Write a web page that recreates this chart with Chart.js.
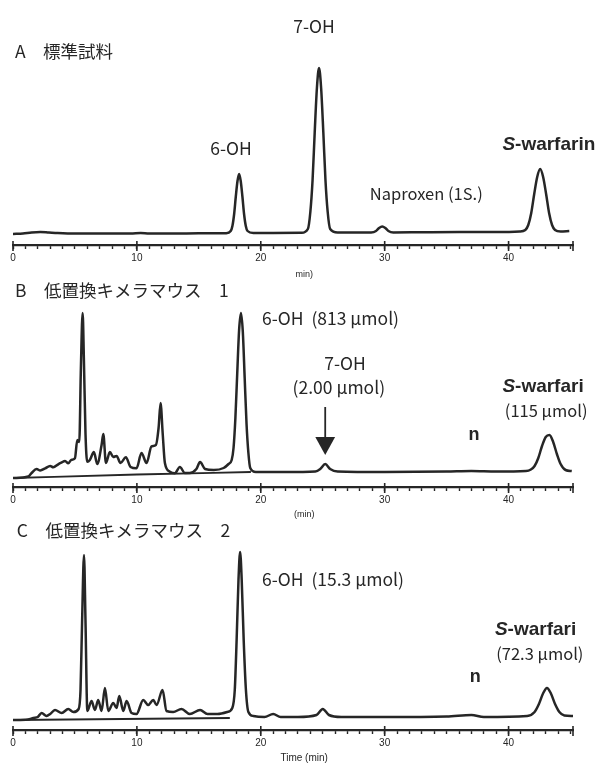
<!DOCTYPE html>
<html><head><meta charset="utf-8">
<script src="https://cdn.jsdelivr.net/npm/chart.js@4.4.1/dist/chart.umd.min.js"></script>
<style>
html,body{margin:0;padding:0;background:#fff;}
body{width:604px;height:763px;position:relative;overflow:hidden;}
canvas{position:absolute;left:0;}
</style></head><body>
<canvas id="cA" width="604" height="282" style="top:0px;width:604px;height:282px"></canvas>
<canvas id="cB" width="604" height="240" style="top:282px;width:604px;height:240px"></canvas>
<canvas id="cC" width="604" height="241" style="top:522px;width:604px;height:241px"></canvas>
<script>
// ---------- data (retention time in min, detector signal in arbitrary units) ----------
const majorTicks = [0, 10, 20, 30, 40];

const timeA = [0, 0.8, 1.5, 2.2, 2.9, 3.6, 5, 7, 9.5, 10.3, 11, 13, 15, 16.5, 17.2,
  17.57, 17.71, 17.85, 17.98, 18.12, 18.25, 18.38, 18.52, 18.65, 18.79, 18.93, 19.4, 21, 23.3,
  23.8, 24.0, 24.18, 24.35, 24.53, 24.7, 24.87, 25.05, 25.22, 25.4, 25.6, 26.2, 28,
  28.9, 29.3, 29.55, 29.8, 30.05, 30.3, 30.7, 33, 36, 39, 40.9,
  41.35, 41.59, 41.83, 42.07, 42.31, 42.55, 42.79, 43.03, 43.27, 43.51, 43.75, 44.2, 44.9];
const signalA = [0, 0.5, 1.5, 2, 1.5, 1, 0.5, 0.5, 0.5, 1, 0.5, 0.5, 0.7, 0.7, 0.8,
  3, 8, 20, 37, 53, 60, 53, 37, 20, 8, 3, 1, 1, 1.2,
  5, 22, 54, 101, 146, 166, 146, 101, 54, 22, 5, 1.5, 1.5,
  1.6, 3, 6, 7.5, 6, 3, 1.6, 1.8, 2, 2, 2.5,
  4, 9, 21, 40, 57, 65, 57, 40, 21, 9, 4, 2.5, 3];

const timeB = [0, 1.23, 1.5, 1.9, 2.2, 2.6, 3.0, 3.25, 3.65, 3.9, 4.2, 4.46, 4.7, 5.0, 5.19, 5.35,
  5.48, 5.62, 5.72, 5.85, 5.99, 6.2, 6.53, 6.8, 7.15, 7.29, 7.5, 7.82, 8.09, 8.36, 8.68, 9.11,
  9.49, 9.97, 10.37, 10.78, 11.18, 11.53, 11.75, 11.91, 12.08, 12.26, 12.66, 13.06, 13.47, 13.87,
  14.27, 14.8, 15.1, 15.5, 16.2, 17.0, 17.4,
  17.65, 17.8, 17.95, 18.1, 18.25, 18.4, 18.55, 18.7, 18.85, 19.0, 19.15, 19.6, 22, 24.4,
  24.8, 25.2, 25.6, 26.2, 30, 35, 37, 39, 41.4,
  41.8, 42.1, 42.4, 42.7, 43.0, 43.3, 43.6, 43.9, 44.2, 44.6, 45.1];
const signalB = [0, 1.5, 5, 9, 7.5, 9.7, 12, 10.7, 13.7, 15.3, 17, 14.7, 18, 19.7, 38, 36,
  110, 165, 120, 45, 16.3, 18, 26, 14, 33, 44, 15, 26, 21, 22, 15, 20.7,
  11, 9.7, 25, 15, 31.7, 33, 50, 75, 45, 15, 6.3, 4.7, 11, 5,
  5, 9, 16, 9, 8, 10, 14,
  18, 30, 60, 105, 148, 165, 146, 100, 54, 25, 10, 6, 6, 6.5,
  9, 14, 9, 6.5, 6, 6.5, 7, 6.5, 7,
  8.5, 12, 20, 32, 41, 43, 36, 24, 14, 8, 7];
const lowerTimeB = [0, 10, 19.2];
const lowerSignalB = [0, 3.5, 6];

const timeC = [0, 1.2, 1.64, 2.0, 2.31, 2.71, 3.0, 3.39, 3.93, 4.46, 4.87, 5.3, 5.45, 5.58, 5.73, 5.85,
  6.0, 6.34, 6.61, 6.88, 7.15, 7.42, 7.69, 8.09, 8.36, 8.58, 8.9, 9.17, 9.57, 9.97, 10.51, 10.91,
  11.32, 11.59, 12.07, 12.39, 12.93, 13.6, 14.27, 15.1, 15.7, 16.5, 17.3, 17.7,
  17.9, 18.05, 18.2, 18.33, 18.46, 18.62, 18.8, 19.0, 19.4, 20.3, 21.0, 21.6, 23, 24.5,
  25.0, 25.5, 26.5, 30, 35, 37, 38, 41.5,
  42.1, 42.45, 42.8, 43.1, 43.4, 43.75, 44.1, 44.5, 45.2];
const signalC = [0, 0.5, 2, 3, 7, 4, 6, 10, 7, 11, 8, 11, 30, 100, 165, 100,
  9, 19, 10, 20, 9, 32, 9, 17, 12, 24, 9, 19, 7, 6, 20, 15,
  20, 15, 30, 9, 8, 11, 6, 10, 6, 6, 8, 12,
  30, 80, 140, 168, 140, 80, 30, 8, 4, 3, 6, 3, 3, 5,
  11, 5, 3, 3, 3.5, 5, 3, 4,
  8, 16, 27, 32, 27, 16, 8, 4.5, 4];
const lowerTimeC = [0, 17.5];
const lowerSignalC = [0, 2];

// ---------- styling ----------
const INK = '#262626';
const CJK = '"Noto Sans CJK JP", "Noto Sans", sans-serif';
const LAT = '"Liberation Sans", Arial, sans-serif';
const LBL = '17.5px ' + CJK;
const TITLE = '17.5px ' + CJK;
const SW = 'bold 19px ' + LAT;
const SWI = 'italic bold 19px ' + LAT;

const labelsA = [
  {x: 0.16, y: 183, parts: [['A　標準試料', TITLE]], align: 'left'},
  {x: 24.3, y: 208, parts: [['7-OH', LBL]], align: 'center'},
  {x: 17.6, y: 86, parts: [['6-OH', LBL]], align: 'center'},
  {x: 28.8, y: 40, parts: [['Naproxen (1S.)', '16.5px ' + CJK]], align: 'left'},
  {x: 39.5, y: 89, parts: [['S', SWI], ['-warfarin', SW]], align: 'left'},
  {x: 23.5, y: -41, parts: [['min)', '9px ' + LAT]], align: 'center'}
];
const labelsB = [
  {x: 0.16, y: 188, parts: [['B　低置換キメラマウス　1', TITLE]], align: 'left'},
  {x: 20.1, y: 160, parts: [['6-OH  (813 μmol)', LBL]], align: 'left'},
  {x: 26.8, y: 115, parts: [['7-OH', LBL]], align: 'center'},
  {x: 26.3, y: 91, parts: [['(2.00 μmol)', LBL]], align: 'center'},
  {x: 39.5, y: 91, parts: [['S', SWI], ['-warfari', SW]], align: 'left'},
  {x: 39.7, y: 67, parts: [['(115 μmol)', '16.5px ' + CJK]], align: 'left'},
  {x: 37.2, y: 43, parts: [['n', 'bold 18px ' + LAT]], align: 'center'},
  {x: 23.5, y: -37, parts: [['(min)', '9px ' + LAT]], align: 'center'}
];
const labelsC = [
  {x: 0.3, y: 190, parts: [['C　低置換キメラマウス　2', TITLE]], align: 'left'},
  {x: 20.1, y: 141, parts: [['6-OH  (15.3 μmol)', LBL]], align: 'left'},
  {x: 38.9, y: 90, parts: [['S', SWI], ['-warfari', SW]], align: 'left'},
  {x: 39.0, y: 66, parts: [['(72.3 μmol)', '16.5px ' + CJK]], align: 'left'},
  {x: 37.3, y: 43, parts: [['n', 'bold 18px ' + LAT]], align: 'center'},
  {x: 23.5, y: -38, parts: [['Time (min)', '10px ' + LAT]], align: 'center'}
];
const arrowB = {x: 25.2, top: 71, headBase: 41, tip: 23, halfWidth: 0.8};

function pts(t, v) { return t.map((x, i) => ({x: x, y: v[i]})); }

function marksPlugin(labels, arrow) {
  return {
    id: 'marks',
    afterDraw(chart) {
      const ctx = chart.ctx, xs = chart.scales.x, ys = chart.scales.y;
      const axisY = chart.chartArea.bottom;
      ctx.save();
      ctx.strokeStyle = INK;
      ctx.lineWidth = 1.6;
      majorTicks.concat([xs.max]).forEach(v => {
        const px = xs.getPixelForValue(v);
        ctx.beginPath(); ctx.moveTo(px, axisY - 4); ctx.lineTo(px, axisY + 6); ctx.stroke();
      });
      if (arrow) {
        const ax = xs.getPixelForValue(arrow.x);
        ctx.lineWidth = 1.8;
        ctx.beginPath(); ctx.moveTo(ax, ys.getPixelForValue(arrow.top));
        ctx.lineTo(ax, ys.getPixelForValue(arrow.headBase)); ctx.stroke();
        ctx.fillStyle = INK;
        ctx.beginPath();
        ctx.moveTo(xs.getPixelForValue(arrow.x - arrow.halfWidth), ys.getPixelForValue(arrow.headBase));
        ctx.lineTo(xs.getPixelForValue(arrow.x + arrow.halfWidth), ys.getPixelForValue(arrow.headBase));
        ctx.lineTo(ax, ys.getPixelForValue(arrow.tip));
        ctx.closePath(); ctx.fill();
      }
      ctx.fillStyle = INK;
      ctx.textBaseline = 'middle';
      labels.forEach(l => {
        let w = 0;
        l.parts.forEach(p => { ctx.font = p[1]; w += ctx.measureText(p[0]).width; });
        let px = xs.getPixelForValue(l.x);
        if (l.align === 'center') px -= w / 2;
        const py = ys.getPixelForValue(l.y);
        ctx.textAlign = 'left';
        l.parts.forEach(p => { ctx.font = p[1]; ctx.fillText(p[0], px, py); px += ctx.measureText(p[0]).width; });
      });
      ctx.restore();
    }
  };
}

function makeChart(id, datasets, yMin, yMax, pad, labels, arrow) {
  return new Chart(document.getElementById(id), {
    type: 'line',
    data: {datasets: datasets},
    options: {
      responsive: false, animation: false, devicePixelRatio: 1,
      layout: {padding: pad},
      plugins: {legend: {display: false}, tooltip: {enabled: false}, title: {display: false}},
      elements: {point: {radius: 0}},
      scales: {
        x: {
          type: 'linear', min: 0, max: 45.2,
          afterBuildTicks: (s) => {
            const t = [];
            for (let v = 0; v <= 45; v++) t.push({value: v});
            s.ticks = t;
          },
          afterFit: (s) => { s.height = 30; },
          ticks: {
            autoSkip: false, maxRotation: 0, padding: 3, color: INK,
            font: {family: '"Liberation Sans", Arial, sans-serif', size: 10},
            callback: (v) => majorTicks.includes(v) ? String(v) : ''
          },
          grid: {drawOnChartArea: false, drawTicks: true, tickLength: 4, color: INK, tickWidth: 1.4},
          border: {display: true, color: INK, width: 2.2}
        },
        y: {type: 'linear', display: false, min: yMin, max: yMax}
      }
    },
    plugins: [marksPlugin(labels, arrow)]
  });
}

function trace(t, v, w) {
  return {data: pts(t, v), borderColor: INK, borderWidth: w, fill: false,
    cubicInterpolationMode: 'monotone', pointRadius: 0};
}

makeChart('cA', [trace(timeA, signalA, 2.5)], -11, 224,
  {top: 10, bottom: 7, left: 13, right: 31}, labelsA, null);
makeChart('cB', [trace(timeB, signalB, 2.5), trace(lowerTimeB, lowerSignalB, 1.8)], -9, 191,
  {top: 5, bottom: 5, left: 13, right: 31}, labelsB, arrowB);
makeChart('cC', [trace(timeC, signalC, 2.5), trace(lowerTimeC, lowerSignalC, 1.8)], -10, 195,
  {top: 3, bottom: 3, left: 13, right: 31}, labelsC, null);
</script></body></html>
